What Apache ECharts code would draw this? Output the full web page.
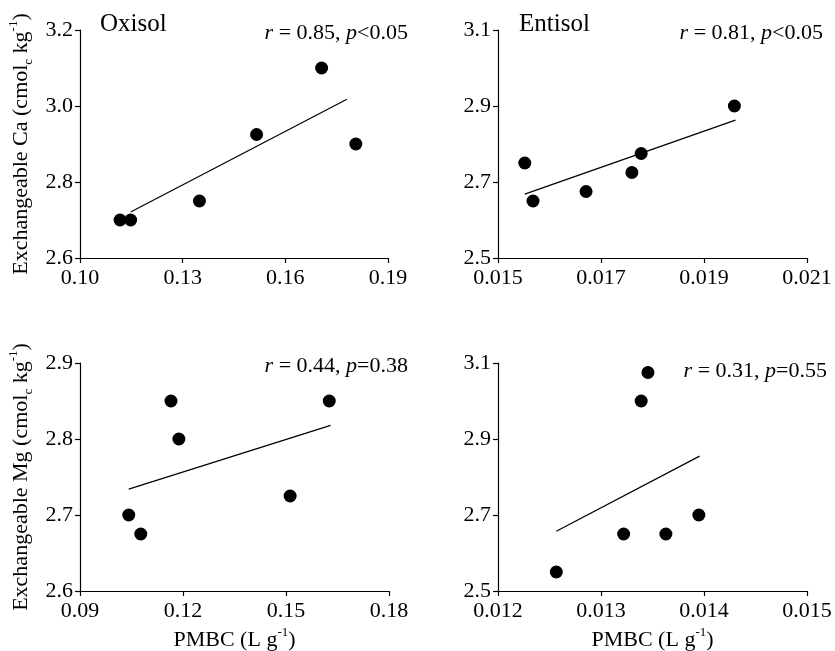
<!DOCTYPE html>
<html>
<head>
<meta charset="utf-8">
<script src="https://cdn.jsdelivr.net/npm/echarts@6/dist/echarts.min.js"></script>
<style>
  html, body { margin: 0; padding: 0; background: #fff; }
  #main { width: 835px; height: 651px; }
</style>
</head>
<body>
<div id="main"></div>
<script>
// PMBC (x) and exchangeable cations (y)
const oxisolCaPmbc = [0.1117, 0.1148, 0.1349, 0.1516, 0.1706, 0.1806];
const oxisolCa     = [2.70, 2.70, 2.75, 2.925, 3.10, 2.90];
const entisolCaPmbc = [0.01552, 0.01568, 0.01671, 0.01760, 0.01778, 0.01959];
const entisolCa     = [2.75, 2.65, 2.675, 2.725, 2.775, 2.90];
const oxisolMgPmbc = [0.1042, 0.1077, 0.1165, 0.1188, 0.1512, 0.1626];
const oxisolMg     = [2.70, 2.675, 2.85, 2.80, 2.725, 2.85];
const entisolMgPmbc = [0.012566, 0.01322, 0.01339, 0.013456, 0.01363, 0.01395];
const entisolMg     = [2.55, 2.65, 3.00, 3.075, 2.65, 2.70];

// fitted line end points
const oxisolCaFitX = [0.1148, 0.1780];
const oxisolCaFitY = [2.721, 3.018];
const entisolCaFitX = [0.01552, 0.01961];
const entisolCaFitY = [2.668, 2.863];
const oxisolMgFitX = [0.1042, 0.1630];
const oxisolMgFitY = [2.734, 2.818];
const entisolMgFitX = [0.012566, 0.013957];
const entisolMgFitY = [2.657, 2.855];

// tick labels
const oxisolCaXTicks = [0.10, 0.13, 0.16, 0.19];
const oxisolCaYTicks = [2.6, 2.8, 3.0, 3.2];
const entisolCaXTicks = [0.015, 0.017, 0.019, 0.021];
const entisolCaYTicks = [2.5, 2.7, 2.9, 3.1];
const oxisolMgXTicks = [0.09, 0.12, 0.15, 0.18];
const oxisolMgYTicks = [2.6, 2.7, 2.8, 2.9];
const entisolMgXTicks = [0.012, 0.013, 0.014, 0.015];
const entisolMgYTicks = [2.5, 2.7, 2.9, 3.1];

const stats = ['0.85', '<0.05', '0.81', '<0.05', '0.44', '=0.38', '0.31', '=0.55'];

const font = "'Liberation Serif', 'Times New Roman', serif";

const zip = (xs, ys) => xs.map((x, i) => [x, ys[i]]);

const grids = [
  { left: 80, top: 30, width: 308, height: 228 },
  { left: 498, top: 30, width: 309, height: 228 },
  { left: 80, top: 363, width: 309, height: 228 },
  { left: 498, top: 363, width: 309, height: 228 }
].map(g => Object.assign(g, { outerBoundsMode: 'none' }));

const panels = [
  { x: oxisolCaPmbc, y: oxisolCa, fx: oxisolCaFitX, fy: oxisolCaFitY, xt: oxisolCaXTicks, yt: oxisolCaYTicks, xd: 2, yd: 1 },
  { x: entisolCaPmbc, y: entisolCa, fx: entisolCaFitX, fy: entisolCaFitY, xt: entisolCaXTicks, yt: entisolCaYTicks, xd: 3, yd: 1 },
  { x: oxisolMgPmbc, y: oxisolMg, fx: oxisolMgFitX, fy: oxisolMgFitY, xt: oxisolMgXTicks, yt: oxisolMgYTicks, xd: 2, yd: 1 },
  { x: entisolMgPmbc, y: entisolMg, fx: entisolMgFitX, fy: entisolMgFitY, xt: entisolMgXTicks, yt: entisolMgYTicks, xd: 3, yd: 1 }
];

const nameRich = {
  n: { fontFamily: font, fontSize: 22, color: '#000', lineHeight: 28, verticalAlign: 'middle' },
  sub: { fontFamily: font, fontSize: 13, color: '#000', lineHeight: 13, verticalAlign: 'bottom' },
  sup: { fontFamily: font, fontSize: 13, color: '#000', lineHeight: 13, verticalAlign: 'top' }
};

const axisLine = { show: true, lineStyle: { color: '#000', width: 1.2 } };

const xAxis = panels.map((p, i) => ({
  type: 'value', gridIndex: i,
  min: p.xt[0], max: p.xt[p.xt.length - 1],
  splitLine: { show: false },
  axisLine: axisLine,
  axisTick: { show: true, length: 5, lineStyle: { color: '#000', width: 1.2 }, customValues: p.xt },
  axisLabel: {
    customValues: p.xt, margin: 9, color: '#000', fontFamily: font, fontSize: 22,
    formatter: v => v.toFixed(p.xd)
  },
  name: i >= 2 ? '{n|PMBC (L g}{sup|-1}{n|)}' : '',
  nameLocation: 'middle', nameGap: 35, nameMoveOverlap: false,
  nameTextStyle: { rich: nameRich }
}));

const yAxis = panels.map((p, i) => ({
  type: 'value', gridIndex: i,
  min: p.yt[0], max: p.yt[p.yt.length - 1],
  splitLine: { show: false },
  axisLine: axisLine,
  axisTick: { show: true, length: 5, lineStyle: { color: '#000', width: 1.2 }, customValues: p.yt },
  axisLabel: {
    customValues: p.yt, margin: 7, color: '#000', fontFamily: font, fontSize: 22,
    formatter: v => v.toFixed(p.yd)
  },
  name: i === 0 ? '{n|Exchangeable Ca (cmol}{sub|c}{n| kg}{sup|-1}{n|)}'
      : i === 2 ? '{n|Exchangeable Mg (cmol}{sub|c}{n| kg}{sup|-1}{n|)}' : '',
  nameLocation: 'middle', nameGap: 45, nameMoveOverlap: false,
  nameTextStyle: { rich: nameRich }
}));

const series = [];
panels.forEach((p, i) => {
  series.push({
    type: 'line', xAxisIndex: i, yAxisIndex: i,
    data: zip(p.fx, p.fy), showSymbol: false, silent: true,
    lineStyle: { color: '#000', width: 1.2 }
  });
  series.push({
    type: 'scatter', xAxisIndex: i, yAxisIndex: i,
    data: zip(p.x, p.y), symbolSize: 13,
    itemStyle: { color: '#000', opacity: 1 }
  });
});

const statPos = [
  { right: 835 - 408, top: 22 },
  { right: 835 - 823, top: 22 },
  { right: 835 - 408, top: 355 },
  { right: 835 - 827, top: 360 }
];

const title = [
  { text: 'Oxisol', left: 100, top: 12, padding: 0,
    textStyle: { fontFamily: font, fontSize: 25, fontWeight: 'normal', color: '#000' } },
  { text: 'Entisol', left: 519, top: 12, padding: 0,
    textStyle: { fontFamily: font, fontSize: 25, fontWeight: 'normal', color: '#000' } }
].concat(statPos.map((pos, i) => ({
  text: '{i|r} = ' + stats[i * 2] + ', {i|p}' + stats[i * 2 + 1],
  right: pos.right, top: pos.top, padding: 0,
  textStyle: {
    fontFamily: font, fontSize: 22, fontWeight: 'normal', color: '#000',
    rich: { i: { fontFamily: font, fontSize: 22, fontStyle: 'italic', color: '#000' } }
  }
})));

const chart = echarts.init(document.getElementById('main'), null, { renderer: 'canvas' });
chart.setOption({
  backgroundColor: '#fff',
  animation: false,
  title: title,
  grid: grids,
  xAxis: xAxis,
  yAxis: yAxis,
  series: series
});
</script>
</body>
</html>
